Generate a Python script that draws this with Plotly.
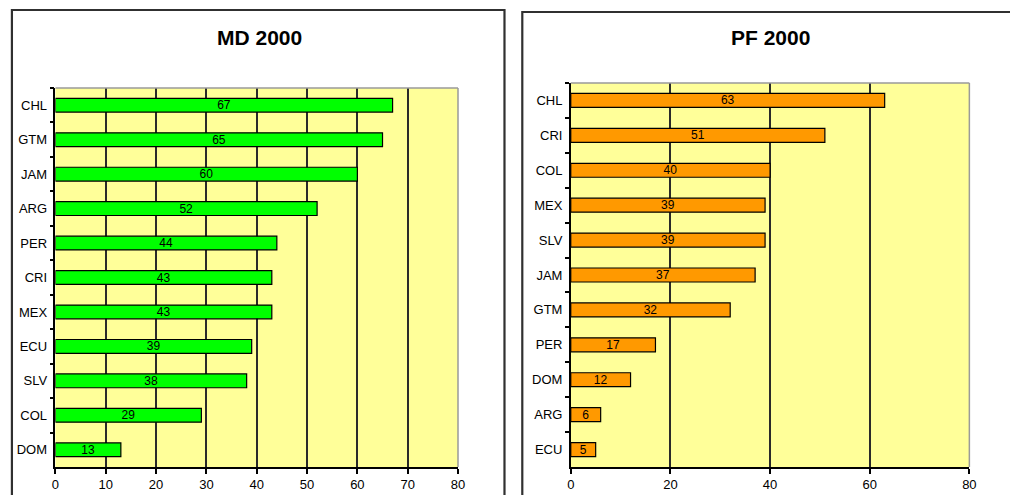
import plotly.graph_objects as go

W, H = 1010, 495

# MD 2000 panel
md_countries = ["CHL", "GTM", "JAM", "ARG", "PER", "CRI", "MEX", "ECU", "SLV", "COL", "DOM"]
md_values = [67, 65, 60, 52, 44, 43, 43, 39, 38, 29, 13]

# PF 2000 panel
pf_countries = ["CHL", "CRI", "COL", "MEX", "SLV", "JAM", "GTM", "PER", "DOM", "ARG", "ECU"]
pf_values = [63, 51, 40, 39, 39, 37, 32, 17, 12, 6, 5]

md_ticks = [0, 10, 20, 30, 40, 50, 60, 70, 80]
pf_ticks = [0, 20, 40, 60, 80]

FONT = "Liberation Sans, Arial, sans-serif"


def px_x(v):
    return v / W


def px_y(v):
    return 1 - v / H


fig = go.Figure()

fig.add_trace(go.Bar(
    x=md_values, y=md_countries, orientation="h",
    marker=dict(color="#00FF00", line=dict(color="#000000", width=1.2)),
    width=0.4,
    text=[str(v) for v in md_values], textposition="inside", textangle=0,
    insidetextanchor="middle", constraintext="none",
    textfont=dict(family=FONT, size=12, color="#000000"),
    xaxis="x", yaxis="y", hoverinfo="skip",
))

fig.add_trace(go.Bar(
    x=pf_values, y=pf_countries, orientation="h",
    marker=dict(color="#FF9900", line=dict(color="#000000", width=1.2)),
    width=0.4,
    text=[str(v) for v in pf_values], textposition="inside", textangle=0,
    insidetextanchor="middle", constraintext="none",
    textfont=dict(family=FONT, size=12, color="#000000"),
    xaxis="x2", yaxis="y2", hoverinfo="skip",
))

xaxis_common = dict(
    range=[0, 80], showgrid=True, gridcolor="#2a2a2a", gridwidth=1.5,
    showline=True, linecolor="#000000", linewidth=1.5,
    ticks="outside", ticklen=5, tickcolor="#000000", tickwidth=1.5,
    tickfont=dict(family=FONT, size=13, color="#000000"),
    zeroline=False, fixedrange=True,
)
yaxis_common = dict(
    type="category", autorange="reversed",
    showline=True, linecolor="#000000", linewidth=1.5,
    ticks="outside", ticklen=4, tickcolor="#000000", tickwidth=1.5,
    tickson="boundaries", showgrid=False,
    tickfont=dict(family=FONT, size=13, color="#000000"),
    ticklabelstandoff=4, fixedrange=True,
)

md_dom_x = [px_x(52), px_x(459)]
md_dom_y = [px_y(467), px_y(88)]
pf_dom_x = [px_x(573), px_x(976)]
pf_dom_y = [px_y(467), px_y(83)]

fig.update_layout(
    width=W, height=H,
    margin=dict(l=0, r=0, t=0, b=0),
    paper_bgcolor="#FFFFFF",
    plot_bgcolor="#FFFF99",
    showlegend=False,
    bargap=0.6,
    xaxis=dict(domain=md_dom_x, anchor="y", tickvals=md_ticks, **xaxis_common),
    yaxis=dict(domain=md_dom_y, anchor="x", **yaxis_common),
    xaxis2=dict(domain=pf_dom_x, anchor="y2", tickvals=pf_ticks, **xaxis_common),
    yaxis2=dict(domain=pf_dom_y, anchor="x2", **yaxis_common),
)

shapes = []
# Panel frames
shapes.append(dict(type="rect", xref="paper", yref="paper",
                   x0=px_x(8), x1=px_x(506), y0=-0.2, y1=px_y(10),
                   line=dict(color="#303030", width=2.2), fillcolor="rgba(0,0,0,0)"))
shapes.append(dict(type="rect", xref="paper", yref="paper",
                   x0=px_x(524), x1=1.2, y0=-0.2, y1=px_y(12),
                   line=dict(color="#303030", width=2.2), fillcolor="rgba(0,0,0,0)"))
# Grey outline on the top and right sides of each plot area
for dx, dy in [(md_dom_x, md_dom_y), (pf_dom_x, pf_dom_y)]:
    shapes.append(dict(type="line", xref="paper", yref="paper",
                       x0=dx[0], x1=dx[1], y0=dy[1], y1=dy[1],
                       line=dict(color="#9a9a9a", width=1.5)))
    shapes.append(dict(type="line", xref="paper", yref="paper",
                       x0=dx[1], x1=dx[1], y0=dy[0], y1=dy[1],
                       line=dict(color="#9a9a9a", width=1.5)))
fig.update_layout(shapes=shapes)

fig.add_annotation(text="<b>MD 2000</b>", x=px_x(258), y=px_y(37), xref="paper", yref="paper",
                   showarrow=False, xanchor="center", yanchor="middle",
                   font=dict(family=FONT, size=21, color="#000000"))
fig.add_annotation(text="<b>PF 2000</b>", x=px_x(775), y=px_y(37), xref="paper", yref="paper",
                   showarrow=False, xanchor="center", yanchor="middle",
                   font=dict(family=FONT, size=21, color="#000000"))

fig.write_html("out.html")
